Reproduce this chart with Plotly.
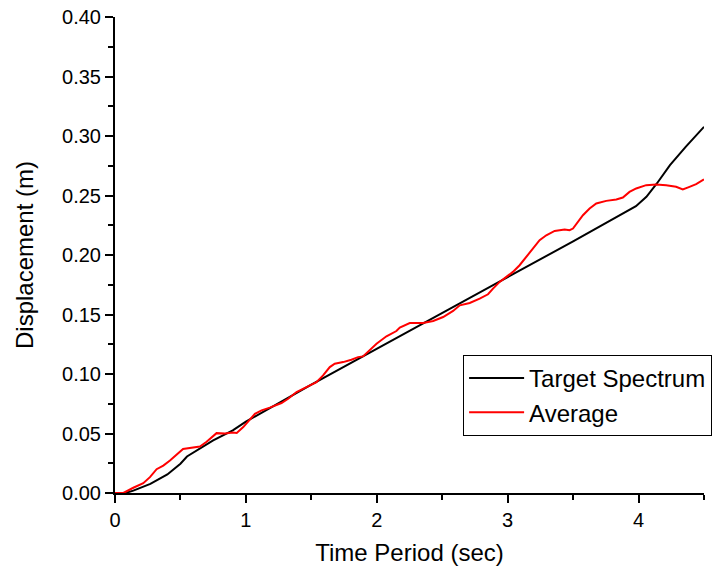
import plotly.graph_objects as go

# Target design spectrum (displacement vs. period)
period_target = [0.00, 0.08, 0.14, 0.27, 0.40, 0.50, 0.55, 0.65, 0.75, 0.90, 1.00,
                 1.50, 2.00, 2.50, 3.00, 3.50, 3.98, 4.06, 4.14, 4.24, 4.36, 4.50]
disp_target = [0.0000, 0.0000, 0.0020, 0.0077, 0.0156, 0.0246, 0.0307, 0.0372, 0.0442, 0.0526, 0.0600,
               0.0910, 0.1210, 0.1510, 0.1815, 0.2115, 0.2410, 0.2489, 0.2601, 0.2755, 0.2909, 0.3077]

# Average spectrum of the matched records
period_avg = [0.000, 0.064, 0.140, 0.216, 0.267, 0.318, 0.369, 0.420, 0.520, 0.600, 0.649,
              0.700, 0.776, 0.840, 0.900, 0.930, 0.980, 1.069, 1.120, 1.183, 1.272, 1.323,
              1.387, 1.463, 1.539, 1.590, 1.641, 1.679, 1.743, 1.806, 1.857, 1.895, 1.947,
              1.998, 2.074, 2.150, 2.176, 2.252, 2.354, 2.431, 2.507, 2.583, 2.634, 2.710,
              2.786, 2.850, 2.888, 2.939, 2.990, 3.040, 3.091, 3.142, 3.193, 3.244, 3.295,
              3.359, 3.435, 3.473, 3.499, 3.537, 3.575, 3.626, 3.677, 3.753, 3.830, 3.880,
              3.931, 3.982, 4.058, 4.135, 4.211, 4.287, 4.338, 4.389, 4.440, 4.500]
disp_avg = [0.0000, 0.0000, 0.0044, 0.0082, 0.0133, 0.0200, 0.0230, 0.0273, 0.0370, 0.0385, 0.0390,
            0.0430, 0.0503, 0.0500, 0.0508, 0.0505, 0.0554, 0.0666, 0.0694, 0.0717, 0.0756, 0.0792,
            0.0848, 0.0890, 0.0932, 0.0988, 0.1058, 0.1087, 0.1100, 0.1120, 0.1142, 0.1148, 0.1199,
            0.1255, 0.1317, 0.1361, 0.1390, 0.1428, 0.1428, 0.1445, 0.1479, 0.1530, 0.1577, 0.1597,
            0.1634, 0.1670, 0.1718, 0.1774, 0.1816, 0.1858, 0.1914, 0.1984, 0.2063, 0.2124, 0.2166,
            0.2202, 0.2214, 0.2208, 0.2222, 0.2278, 0.2334, 0.2391, 0.2433, 0.2455, 0.2466, 0.2483,
            0.2530, 0.2559, 0.2587, 0.2592, 0.2587, 0.2573, 0.2551, 0.2573, 0.2595, 0.2635]

x_ticks = [0, 1, 2, 3, 4]
y_ticks = [0.00, 0.05, 0.10, 0.15, 0.20, 0.25, 0.30, 0.35, 0.40]

FONT = "Arial, Liberation Sans, sans-serif"

fig = go.Figure()
fig.add_trace(go.Scatter(x=period_target, y=disp_target, mode="lines",
                         name="Target Spectrum", line=dict(color="black", width=2)))
fig.add_trace(go.Scatter(x=period_avg, y=disp_avg, mode="lines",
                         name="Average", line=dict(color="#ff0000", width=2)))

axis_common = dict(
    showline=True, linecolor="black", linewidth=2, mirror=False,
    showgrid=False, zeroline=False,
    ticks="outside", ticklen=8, tickwidth=2, tickcolor="black",
    tickfont=dict(family=FONT, size=20, color="black"),
)

fig.update_xaxes(range=[0, 4.5], tickvals=x_ticks, ticktext=[str(v) for v in x_ticks],
                 minor=dict(dtick=0.5, tick0=0, ticks="outside", ticklen=5, tickwidth=2, tickcolor="black"),
                 title=dict(text="Time Period (sec)", font=dict(family=FONT, size=24, color="black"), standoff=14),
                 **axis_common)
fig.update_yaxes(range=[0, 0.40], tickvals=y_ticks, tickformat=".2f",
                 minor=dict(dtick=0.025, tick0=0, ticks="outside", ticklen=5, tickwidth=2, tickcolor="black"),
                 title=dict(text="Displacement (m)", font=dict(family=FONT, size=24, color="black"), standoff=22),
                 **axis_common)

fig.update_layout(
    width=712, height=569,
    margin=dict(l=115, r=8, t=17, b=76, autoexpand=False),
    plot_bgcolor="white", paper_bgcolor="white",
    legend=dict(x=0.591, y=0.29, xanchor="left", yanchor="top",
                bgcolor="white", bordercolor="black", borderwidth=1,
                font=dict(family=FONT, size=24, color="black"),
                itemwidth=55, tracegroupgap=0),
)

fig.write_html("out.html")
